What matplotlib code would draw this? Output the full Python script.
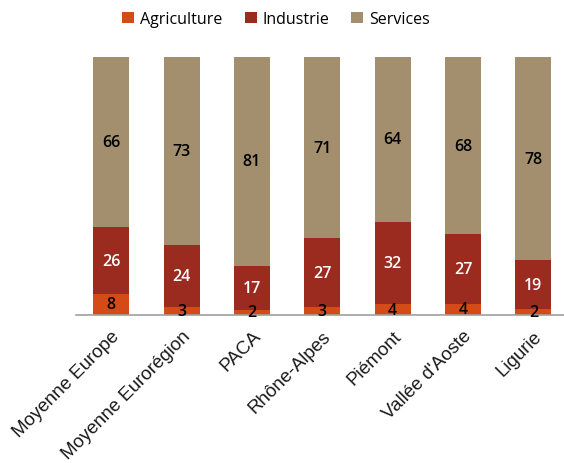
import numpy as np
import matplotlib.pyplot as plt

regions = ['Moyenne Europe', 'Moyenne Eurorégion', 'PACA', 'Rhône-Alpes',
           'Piémont', "Vallée d'Aoste", 'Ligurie']
agriculture = [8, 3, 2, 3, 4, 4, 2]
industrie = [26, 24, 17, 27, 32, 27, 19]
services = [66, 73, 81, 71, 64, 68, 78]

colors = ['#D54B17', '#9B2B1F', '#A38F6E']
txt_colors = ['black', 'white', 'black']

fig = plt.figure(figsize=(5.64, 4.64), dpi=100)
ax = fig.add_axes([76 / 564, 148.3 / 464, 492.6 / 564, 257.7 / 464])

x = np.arange(len(regions))
# 100% stacked, like the original Excel chart
total = np.array(agriculture) + np.array(industrie) + np.array(services)
bottom = np.zeros(len(regions))
series = [('Agriculture', agriculture), ('Industrie', industrie), ('Services', services)]
for (name, vals), c, tc in zip(series, colors, txt_colors):
    vals = np.array(vals, dtype=float)
    h = vals / total * 100
    ax.bar(x, h, 0.51, bottom=bottom, color=c, label=name)
    for xi, b, hh, v in zip(x, bottom, h, vals):
        ax.text(xi, b + hh / 2, str(int(v)), ha='center', va='center',
                color=tc, fontsize=11.5, family='Open Sans', weight='semibold')
    bottom += h

ax.set_xlim(-0.5, 6.5)
ax.set_ylim(0, 100)
ax.set_yticks([])
for s in ['top', 'right', 'left']:
    ax.spines[s].set_visible(False)
ax.spines['bottom'].set_color('#A0A0A0')
ax.spines['bottom'].set_linewidth(1.2)
ax.tick_params(axis='x', length=0, pad=9)
ax.set_xticks(x)
ax.set_xticklabels(regions, rotation=45, ha='right', rotation_mode='anchor',
                   fontsize=13.5, family='Liberation Sans', color='#1a1a1a')

ax.legend(loc='center', bbox_to_anchor=(276 / 564, 1 - 20 / 464),
          bbox_transform=fig.transFigure, ncol=3, frameon=False,
          prop={'family': 'Open Sans', 'size': 11.5},
          handlelength=0.75, handleheight=0.75, handletextpad=0.35, columnspacing=1.4)

fig.savefig('out.png', dpi=100)
